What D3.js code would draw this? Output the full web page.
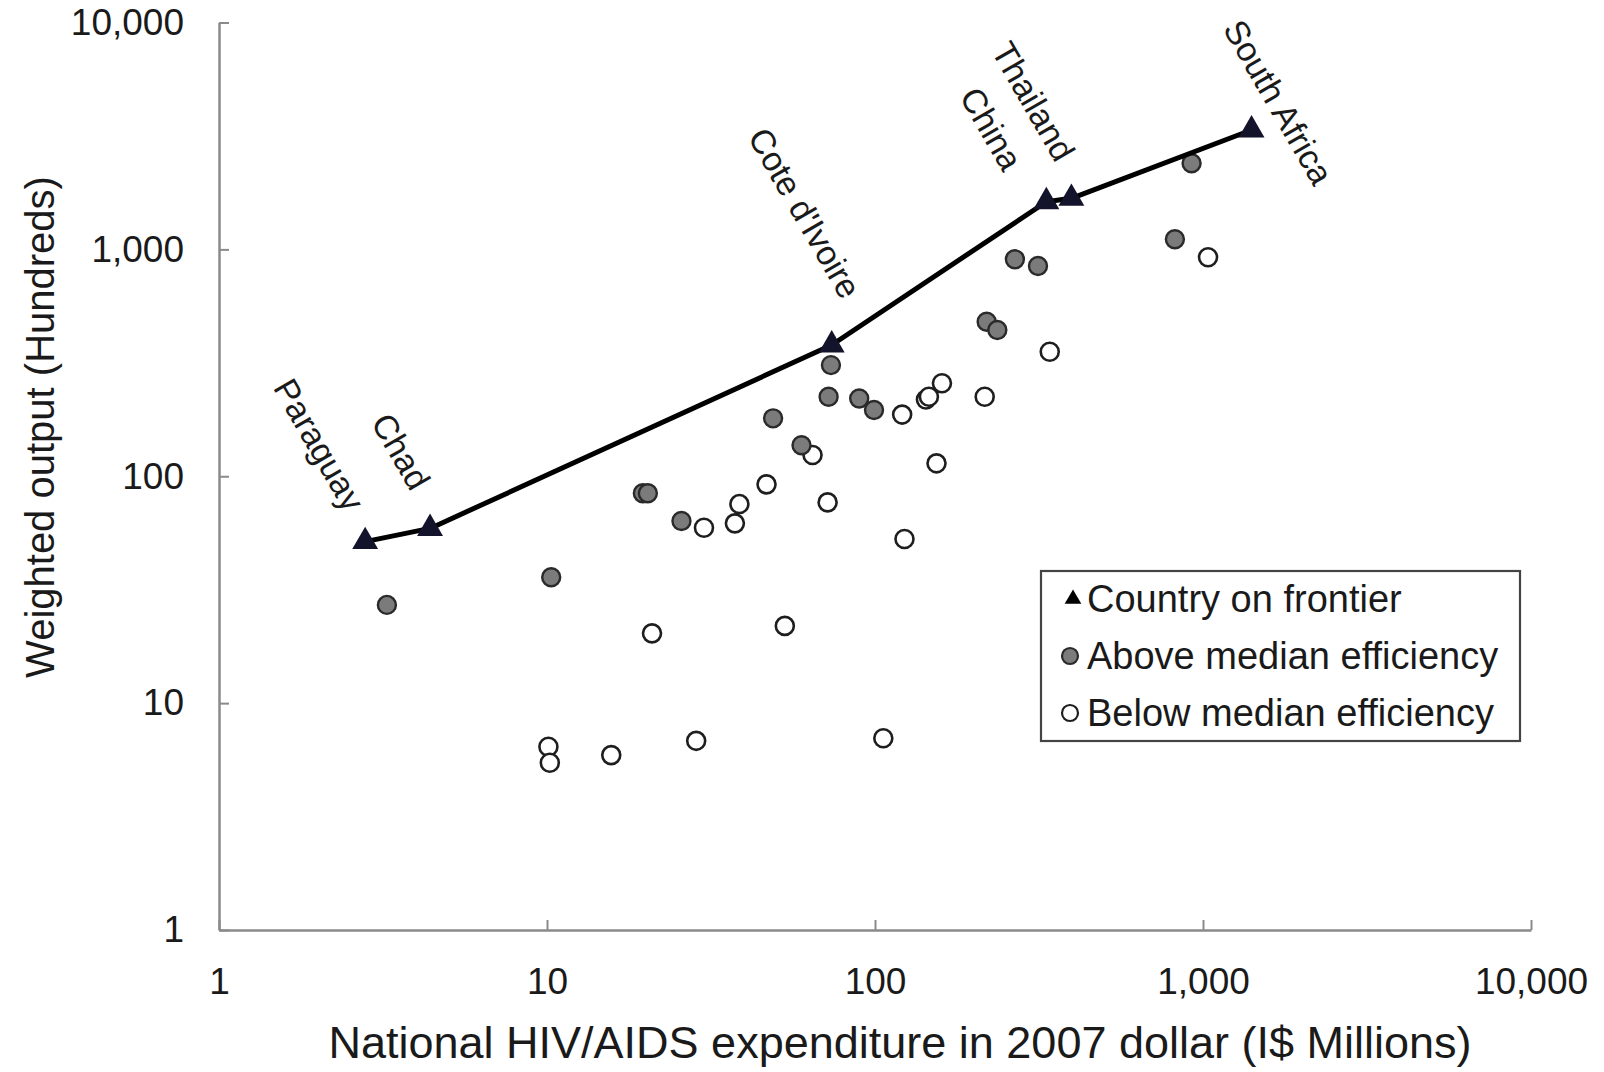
<!DOCTYPE html>
<html>
<head>
<meta charset="utf-8">
<script src="https://cdn.jsdelivr.net/npm/d3@7/dist/d3.min.js"></script>
<style>
  html, body { margin: 0; padding: 0; background: #ffffff; }
  svg { display: block; font-family: "Liberation Sans", Arial, Helvetica, sans-serif; }
</style>
</head>
<body>
<svg id="chart" width="1604" height="1072"></svg>
<script>
// ---------------- data ----------------
const frontierNames = ["Paraguay", "Chad", "Cote d'Ivoire", "China", "Thailand", "South Africa"];
const frontierX = [2.79, 4.40, 73.8, 333, 397, 1406];
const frontierY = [51.5, 58.9, 379, 1622, 1679, 3358];

const aboveX = [3.25, 10.3, 19.6, 20.3, 25.7, 48.9, 59.7, 73.4, 72.2, 89.5, 99.3, 219, 236, 267, 314, 821, 923];
const aboveY = [27.1, 35.9, 84.1, 84.1, 63.5, 180, 137, 309, 224, 220, 196, 480, 441, 904, 845, 1108, 2395];

const belowX = [10.1, 10.2, 15.7, 28.5, 20.9, 53.1, 106, 30.1, 37.4, 38.6, 46.7, 64.5, 71.7, 123, 121, 143, 146, 160, 154, 216, 341, 1036];
const belowY = [6.42, 5.46, 5.90, 6.82, 20.3, 21.9, 7.0, 59.3, 62.0, 75.4, 92.1, 124, 76.7, 52.9, 187, 218, 224, 257, 114, 224, 354, 923];

const xTicks = [1, 10, 100, 1000, 10000];
const yTicks = [1, 10, 100, 1000, 10000];

const legendLabels = ["Country on frontier", "Above median efficiency", "Below median efficiency"];
const xTitle = "National HIV/AIDS expenditure in 2007 dollar (I$ Millions)";
const yTitle = "Weighted output (Hundreds)";

// label offsets relative to each frontier point (style)
const labelOffsets = [[-46, -97], [-29, -77], [-27, -132], [-55, -73], [-38, -97], [27, -28]];

// ---------------- layout ----------------
const svg = d3.select("#chart");
svg.append("rect").attr("width", 1604).attr("height", 1072).attr("fill", "#ffffff");

const x = d3.scaleLog().domain([1, 10000]).range([219, 1531]);
const y = d3.scaleLog().domain([1, 10000]).range([930, 22.5]);
const fmt = d3.format(",");

const axisColor = "#8a8a8a";
const textColor = "#1a1a1a";

// x axis
const gx = svg.append("g").attr("transform", `translate(0,${y(1)})`)
  .call(d3.axisBottom(x).tickValues(xTicks).tickFormat(fmt).tickSizeInner(-10).tickSizeOuter(0).tickPadding(38));
gx.select(".domain").attr("stroke", axisColor).attr("stroke-width", 2.5);
gx.selectAll(".tick line").attr("stroke", axisColor).attr("stroke-width", 2);
gx.selectAll(".tick text").attr("fill", textColor).attr("font-size", 37).attr("font-family", "Liberation Sans, Arial, sans-serif");

// y axis
const gy = svg.append("g").attr("transform", `translate(${x(1)},0)`)
  .call(d3.axisLeft(y).tickValues(yTicks).tickFormat(fmt).tickSizeInner(-10).tickSizeOuter(0).tickPadding(35));
gy.select(".domain").attr("stroke", axisColor).attr("stroke-width", 2.5);
gy.selectAll(".tick line").attr("stroke", axisColor).attr("stroke-width", 2);
gy.selectAll(".tick text").attr("fill", textColor).attr("font-size", 37).attr("font-family", "Liberation Sans, Arial, sans-serif");

// axis titles
svg.append("text").attr("x", 900).attr("y", 1058).attr("text-anchor", "middle")
  .attr("font-size", 45).attr("fill", textColor).text(xTitle);
svg.append("text").attr("transform", `translate(54,427) rotate(-90)`).attr("text-anchor", "middle")
  .attr("font-size", 40).attr("fill", textColor).text(yTitle);

// points
const below = belowX.map((v, i) => ({x: v, y: belowY[i]}));
const above = aboveX.map((v, i) => ({x: v, y: aboveY[i]}));
const frontier = frontierX.map((v, i) => ({x: v, y: frontierY[i], name: frontierNames[i], off: labelOffsets[i]}));

svg.append("g").selectAll("circle").data(below).join("circle")
  .attr("cx", d => x(d.x)).attr("cy", d => y(d.y)).attr("r", 9)
  .attr("fill", "#ffffff").attr("stroke", "#1e1e1e").attr("stroke-width", 2.6);

svg.append("g").selectAll("circle").data(above).join("circle")
  .attr("cx", d => x(d.x)).attr("cy", d => y(d.y)).attr("r", 9)
  .attr("fill", "#7b7b7b").attr("stroke", "#2a2a2a").attr("stroke-width", 2.4);

// frontier line
const line = d3.line().x(d => x(d.x)).y(d => y(d.y));
svg.append("path").datum(frontier).attr("d", line)
  .attr("fill", "none").attr("stroke", "#000000").attr("stroke-width", 5).attr("stroke-linejoin", "round");

const tri = d3.symbol().type(d3.symbolTriangle).size(290);
svg.append("g").selectAll("path").data(frontier).join("path")
  .attr("d", tri).attr("transform", d => `translate(${x(d.x)},${y(d.y)})`)
  .attr("fill", "#13132b");

// frontier labels
svg.append("g").selectAll("text").data(frontier).join("text")
  .attr("transform", d => `translate(${x(d.x) + d.off[0]},${y(d.y) + d.off[1]}) rotate(60)`)
  .attr("text-anchor", "middle").attr("dominant-baseline", "central")
  .attr("font-size", 34).attr("fill", textColor).text(d => d.name);

// legend
const lg = svg.append("g");
lg.append("rect").attr("x", 1041).attr("y", 571).attr("width", 479).attr("height", 170)
  .attr("fill", "#ffffff").attr("stroke", "#444444").attr("stroke-width", 2.2);
const rowY = d3.scalePoint().domain(legendLabels).range([599, 713]);
lg.selectAll("text").data(legendLabels).join("text")
  .attr("x", 1087).attr("y", d => rowY(d)).attr("dominant-baseline", "central")
  .attr("font-size", 38).attr("fill", textColor).text(d => d);
const triSmall = d3.symbol().type(d3.symbolTriangle).size(120);
lg.append("path").attr("d", triSmall).attr("transform", `translate(1073,${rowY(legendLabels[0])})`).attr("fill", "#000000");
lg.append("circle").attr("cx", 1070).attr("cy", rowY(legendLabels[1])).attr("r", 8)
  .attr("fill", "#7b7b7b").attr("stroke", "#2a2a2a").attr("stroke-width", 2.2);
lg.append("circle").attr("cx", 1070).attr("cy", rowY(legendLabels[2])).attr("r", 8)
  .attr("fill", "#ffffff").attr("stroke", "#1e1e1e").attr("stroke-width", 2.2);
</script>
</body>
</html>
